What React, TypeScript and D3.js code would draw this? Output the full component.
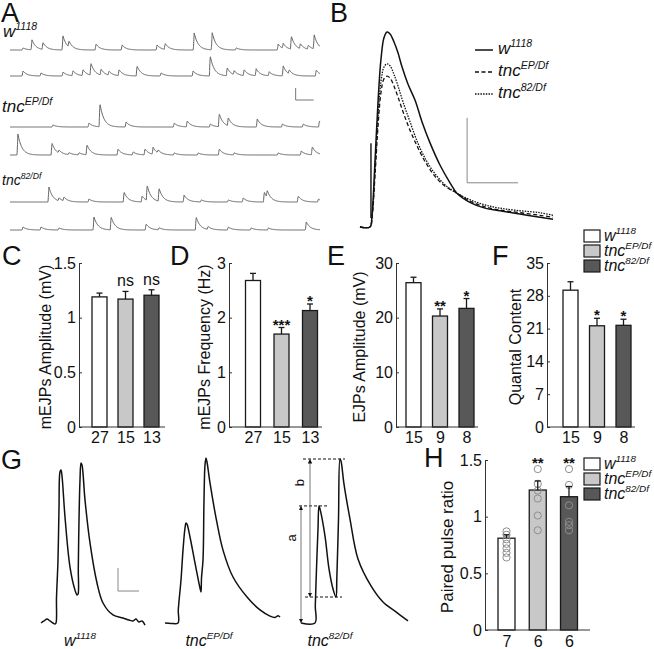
import { useEffect, useRef } from "react";
import * as d3 from "d3";

const W = 654;
const H = 649;
const FONT = "'Liberation Sans', Arial, Helvetica, sans-serif";

const genotypes = ["w1118", "tncEP/Df", "tnc82/Df"];
const genoBase = ["w", "tnc", "tnc"];
const genoSup = ["1118", "EP/Df", "82/Df"];
const genoFill = ["#ffffff", "#c8c8c8", "#585858"];

// A: spontaneous mEJPs, [time (s), amplitude (mV)] per sweep
const aW1 = [[0.67, 0.17], [1.17, 0.83], [1.78, 0.58], [2.89, 1.17], [3.22, 0.5], [4.72, 0.5], [6.17, 0.42], [8.11, 0.42], [8.56, 0.5], [10.17, 1.42], [11.17, 1.42], [12.5, 0.17], [14.83, 0.5], [15.11, 0.42], [15.56, 1.08], [16.06, 0.42], [16.5, 0.33], [16.83, 1.17]];
const aW2 = [[0.67, 0.42], [1.67, 0.25], [2.89, 0.33], [3.44, 0.42], [4.0, 0.5], [4.44, 1.0], [5.0, 0.5], [5.44, 0.33], [6.0, 0.5], [7.0, 0.83], [8.33, 0.25], [10.11, 0.42], [11.06, 1.67], [12.0, 0.67], [12.39, 0.33], [12.94, 0.5], [13.61, 0.58], [14.33, 0.33], [15.11, 0.83], [15.44, 0.33], [16.94, 0.5]];
const aEP1 = [[2.33, 0.17], [4.33, 0.33], [4.94, 1.92], [6.39, 0.42], [9.06, 0.33], [9.78, 0.5], [11.06, 0.25], [11.56, 1.08], [12.06, 0.67], [13.67, 0.67], [15.06, 0.25], [16.22, 0.25], [17.12, 0.5]];
const aEP2 = [[0.39, 1.75], [2.28, 1.0], [2.67, 0.25], [3.22, 0.17], [3.78, 0.17], [4.22, 0.83], [5.94, 0.5], [6.78, 0.25], [7.44, 0.5], [7.89, 0.58], [8.17, 0.25], [9.06, 0.17], [10.39, 0.17], [11.56, 0.5], [12.39, 0.17], [14.83, 0.17], [16.11, 0.33], [16.72, 0.67]];
const a821 = [[2.11, 1.25], [2.67, 0.25], [2.94, 0.33], [4.33, 0.25], [6.28, 0.83], [7.28, 0.5], [7.56, 1.25], [8.22, 1.08], [9.61, 0.58], [10.56, 0.17], [12.06, 0.17], [12.89, 0.33], [14.06, 0.83], [14.22, 0.58], [15.94, 0.5], [17.06, 0.25]];
const a822 = [[0.67, 0.25], [1.67, 0.25], [2.67, 0.17], [4.61, 1.08], [5.56, 1.08], [7.5, 0.5], [8.22, 0.17], [10.28, 1.08], [10.94, 0.25], [12.06, 0.25], [13.33, 0.17], [14.28, 0.17], [16.39, 0.67]];

// B: averaged EJPs, time (ms) and voltage (mV)
const bT_w = [0, 3.9, 4.7, 5.9, 7.1, 8.2, 9.4, 10.6, 11.8, 13.3, 14.9, 16.5, 18.8, 21.6, 24.3, 27.5, 31.4, 35.3, 38.0, 43.1, 49.0, 54.9, 62.7, 70.6, 75.7];
const bV_w = [0, 0, 1.8, 10.3, 19.5, 25.7, 29.1, 30.0, 29.7, 28.5, 26.8, 24.6, 22.0, 19.5, 16.2, 12.9, 9.5, 6.8, 5.2, 3.8, 2.9, 2.5, 2.0, 1.5, 1.2];
const bT_tnc = [0, 3.9, 4.7, 5.9, 7.1, 8.2, 9.4, 10.6, 11.8, 13.3, 14.9, 16.9, 19.6, 22.7, 25.9, 29.4, 33.3, 38.0, 43.1, 49.0, 54.9, 62.7, 70.6, 75.7];
const bV_ep = [0, 0, 1.4, 8.0, 15.7, 20.6, 22.8, 23.2, 22.9, 21.7, 20.0, 17.7, 14.9, 12.2, 9.8, 7.8, 6.3, 5.2, 4.0, 3.1, 2.6, 2.2, 1.8, 1.5];
const bV_82 = [0, 0, 1.5, 8.8, 17.2, 22.3, 24.6, 25.1, 24.8, 23.5, 21.7, 19.2, 16.2, 12.9, 10.3, 8.2, 6.5, 5.2, 4.2, 3.4, 2.9, 2.5, 2.2, 1.8];

// C-F, H: group means, SEM, n, significance
const mejpAmp = [1.19, 1.17, 1.205];
const mejpAmpSem = [0.035, 0.07, 0.05];
const mejpAmpSig = ["", "ns", "ns"];
const mejpN = [27, 15, 13];
const mejpFreq = [2.68, 1.7, 2.13];
const mejpFreqSem = [0.13, 0.12, 0.12];
const mejpFreqSig = ["", "***", "*"];
const ejpAmp = [26.4, 20.3, 21.7];
const ejpAmpSem = [1.0, 1.3, 1.8];
const ejpAmpSig = ["", "**", "*"];
const ejpN = [15, 9, 8];
const quantal = [29.2, 21.6, 21.7];
const quantalSem = [1.8, 1.6, 1.3];
const quantalSig = ["", "*", "*"];
const ppr = [0.81, 1.235, 1.176];
const pprSem = [0.03, 0.08, 0.09];
const pprSig = ["", "**", "**"];
const pprN = [7, 6, 6];
const pprPoints = [
  [0.87, 0.84, 0.8, 0.76, 0.72, 0.68, 0.64],
  [1.42, 1.29, 1.23, 1.16, 1.01, 0.88],
  [1.42, 1.28, 1.1, 0.955, 0.925, 0.88],
];

// G: paired-pulse traces, [ms, mV]
const gW = [[0, 0], [3, 0.9], [6, 1.7], [9, 0.9], [12, 0], [14, -0.4], [15, 0], [15.5, 10.9], [17, 27.4], [18, 50], [19, 65.7], [20, 66.5], [21, 63.9], [24, 46.1], [29, 24.3], [34, 14.3], [36, 12.2], [37, 12.5], [37.3, 23.9], [38, 44.8], [39, 62.2], [40, 69.6], [41, 68.7], [44, 53.5], [49, 34.8], [56, 17.4], [62, 8.7], [72, 3.5], [82, 2.2], [88, 1.3], [92, 0.9], [95, 1.7], [98, 0.4], [101, 0.9], [104, -0.9]];
const gEP = [[0, 0], [6, -0.2], [13, 0], [13.3, 5.7], [16, 18.7], [18, 31.7], [20, 41.3], [21, 43.5], [22, 43], [25, 37.4], [30, 26.1], [35, 15.2], [36, 13.5], [36.5, 19.6], [38, 27.4], [39, 53.5], [40, 68.7], [41, 71.7], [42, 70], [45, 60.9], [52, 43.5], [58, 31.7], [68, 20], [82, 11.3], [95, 5.7], [105, 3.0], [110, 2.4], [113, 3.2], [115, 2.6]];
const g82 = [[0, 0], [14, 0], [14.3, 7.4], [15.5, 23.5], [17, 40.9], [18, 50.9], [19, 49.6], [24, 37.8], [28, 23.5], [32, 14.8], [35, 11.3], [35.8, 19.1], [37.5, 45.2], [39, 71.3], [40, 70.4], [43, 60.4], [49, 45.2], [57, 27.8], [70, 16.1], [82, 9.1], [95, 4.8], [107, 0.9]];

function mejpTrace(events: number[][], tEnd: number) {
  const rise = 0.05;
  const tau = 0.22;
  const pts: [number, number][] = [];
  for (let t = 0; t <= tEnd; t += 0.02) {
    let v = 0;
    for (const [te, a] of events) {
      const s = t - te;
      if (s < 0) continue;
      v += s < rise ? (a * s) / rise : a * Math.exp(-(s - rise) / tau);
    }
    pts.push([t, v]);
  }
  return pts;
}

function genoLabel(g: any, x: number, y: number, i: number, size: number, anchor = "start") {
  const t = g
    .append("text")
    .attr("x", x)
    .attr("y", y)
    .attr("font-family", FONT)
    .attr("font-style", "italic")
    .attr("font-size", size)
    .attr("text-anchor", anchor)
    .attr("fill", "#111");
  t.append("tspan").text(genoBase[i]);
  t.append("tspan").attr("font-size", size * 0.62).attr("dy", -size * 0.42).text(genoSup[i]);
}

function letter(svg: any, x: number, y: number, s: string) {
  svg
    .append("text")
    .attr("x", x)
    .attr("y", y)
    .attr("font-family", FONT)
    .attr("font-size", 27)
    .attr("fill", "#111")
    .text(s);
}

function barPanel(svg: any, p: any) {
  const g = svg.append("g");
  const y = d3.scaleLinear().domain([0, p.max]).range(p.yRange);
  const x = d3.scalePoint().domain(genotypes).range([p.c0, p.c2]);
  const bw = p.bw;

  g.selectAll("rect.bar")
    .data(genotypes)
    .enter()
    .append("rect")
    .attr("x", (d: string) => (x(d) as number) - bw / 2)
    .attr("y", (d: string, i: number) => y(p.mean[i]))
    .attr("width", bw)
    .attr("height", (d: string, i: number) => y(0) - y(p.mean[i]))
    .attr("fill", (d: string, i: number) => genoFill[i])
    .attr("stroke", "#1a1a1a")
    .attr("stroke-width", 1.3);

  if (p.points) {
    genotypes.forEach((d, i) => {
      g.selectAll(null)
        .data(p.points[i])
        .enter()
        .append("circle")
        .attr("cx", x(d))
        .attr("cy", (v: number) => y(v))
        .attr("r", 3.6)
        .attr("fill", "none")
        .attr("stroke", "#8e8e8e")
        .attr("stroke-width", 1);
    });
  }

  genotypes.forEach((d, i) => {
    const cx = x(d) as number;
    const top = y(p.mean[i] + p.sem[i]);
    g.append("line").attr("x1", cx).attr("x2", cx).attr("y1", y(p.mean[i])).attr("y2", top)
      .attr("stroke", "#1a1a1a").attr("stroke-width", 1.3);
    g.append("line").attr("x1", cx - 3).attr("x2", cx + 3).attr("y1", top).attr("y2", top)
      .attr("stroke", "#1a1a1a").attr("stroke-width", 1.3);
    const s = p.sig[i];
    if (!s) return;
    const ty = p.points ? y(d3.max(p.points[i]) as number) - 1 : s === "ns" ? top - 5 : top + 2;
    g.append("text")
      .attr("x", cx)
      .attr("y", ty)
      .attr("text-anchor", "middle")
      .attr("font-family", FONT)
      .attr("font-size", s === "ns" ? 16 : 15)
      .attr("font-weight", s === "ns" ? "normal" : "bold")
      .attr("fill", "#111")
      .text(s);
  });

  const ya = g
    .append("g")
    .attr("transform", `translate(${p.axisX},0)`)
    .call(d3.axisLeft(y).tickValues(p.ticks).tickSizeInner(-3).tickSizeOuter(0).tickPadding(3).tickFormat((d: any) => String(d)));
  ya.selectAll("text").attr("font-family", FONT).attr("font-size", 16).attr("fill", "#111");
  ya.selectAll("path,line").attr("stroke", "#333");

  g.append("line")
    .attr("x1", p.axisX)
    .attr("x2", p.axisEnd)
    .attr("y1", y(0))
    .attr("y2", y(0))
    .attr("stroke", "#333");

  const xa = g
    .append("g")
    .attr("transform", `translate(0,${y(0)})`)
    .call(d3.axisBottom(x).tickSize(0).tickPadding(p.xPad).tickFormat((d: any, i: number) => String(p.n[i])));
  xa.select(".domain").remove();
  xa.selectAll("text").attr("font-family", FONT).attr("font-size", 16).attr("fill", "#111");

  g.append("text")
    .attr("transform", `translate(${p.labelX},${p.labelY}) rotate(-90)`)
    .attr("text-anchor", "middle")
    .attr("font-family", FONT)
    .attr("font-size", p.labelSize || 16)
    .attr("fill", "#111")
    .text(p.label);
}

function legendBoxes(svg: any, x: number, y0: number, step: number) {
  genotypes.forEach((d, i) => {
    svg.append("rect")
      .attr("x", x)
      .attr("y", y0 + i * step)
      .attr("width", 16)
      .attr("height", 12)
      .attr("fill", genoFill[i])
      .attr("stroke", "#1a1a1a")
      .attr("stroke-width", 1.2);
    genoLabel(svg, x + 20, y0 + i * step + 11, i, 16);
  });
}

export default function App() {
  const ref = useRef<SVGSVGElement | null>(null);

  useEffect(() => {
    const svg = d3.select(ref.current);
    svg.selectAll("*").remove();

    // ---------- A ----------
    letter(svg, 1, 22, "A");
    const xA = d3.scaleLinear().domain([0, 17.2]).range([10, 320]);
    const rows = [aW1, aW2, aEP1, aEP2, a821, a822];
    const baseY = [50, 76, 127, 155, 202, 230];
    rows.forEach((ev, i) => {
      const yA = d3.scaleLinear().domain([0, 1]).range([baseY[i], baseY[i] - 12]);
      const line = d3.line<[number, number]>()
        .curve(d3.curveMonotoneX)
        .x((d) => xA(d[0]))
        .y((d) => yA(d[1]));
      svg.append("path")
        .attr("d", line(mejpTrace(ev, 17.2)))
        .attr("fill", "none")
        .attr("stroke", "#585858")
        .attr("stroke-width", 0.95);
      if (i === 1) {
        // scale bar: 1 s, 1 mV
        svg.append("path")
          .attr("d", `M${xA(15.85)},${yA(-1)}V${yA(-2)}H${xA(16.85)}`)
          .attr("fill", "none")
          .attr("stroke", "#777")
          .attr("stroke-width", 1);
      }
    });
    genoLabel(svg, 3, 37, 0, 17);
    genoLabel(svg, 2, 112, 1, 17);
    genoLabel(svg, 2, 185, 2, 14);

    // ---------- B ----------
    letter(svg, 330, 22, "B");
    const xB = d3.scaleLinear().domain([0, 20]).range([360, 411]);
    const yB = d3.scaleLinear().domain([0, 10]).range([227, 162]);
    const bCurves = [
      { t: bT_w, v: bV_w, dash: null, w: 1.5 },
      { t: bT_tnc, v: bV_ep, dash: "4,2.5", w: 1.3 },
      { t: bT_tnc, v: bV_82, dash: "1.5,1.2", w: 1.3 },
    ];
    bCurves.forEach((c) => {
      const pts = c.t.map((t, i) => [xB(t), yB(c.v[i])] as [number, number]);
      svg.append("path")
        .attr("d", d3.line().curve(d3.curveCatmullRom.alpha(0.5))(pts))
        .attr("fill", "none")
        .attr("stroke", "#111")
        .attr("stroke-width", c.w)
        .attr("stroke-dasharray", c.dash);
    });
    // stimulus artifact
    svg.append("line")
      .attr("x1", xB(4.3)).attr("x2", xB(4.3))
      .attr("y1", yB(12.9)).attr("y2", yB(1.4))
      .attr("stroke", "#111").attr("stroke-width", 1.4);
    // scale bar: 10 mV, 20 ms
    svg.append("path")
      .attr("d", `M${xB(42)},${yB(16.8)}V${yB(6.8)}H${xB(62)}`)
      .attr("fill", "none")
      .attr("stroke", "#888")
      .attr("stroke-width", 1);
    const legDash = [null, "4,2.5", "1.5,1.2"];
    genotypes.forEach((d, i) => {
      const ly = 50 + i * 22;
      svg.append("line")
        .attr("x1", 475).attr("x2", 493).attr("y1", ly).attr("y2", ly)
        .attr("stroke", "#111").attr("stroke-width", 1.5)
        .attr("stroke-dasharray", legDash[i]);
      genoLabel(svg, 498, ly + 4, i, 17);
    });

    // ---------- C-F ----------
    letter(svg, 2, 265, "C");
    letter(svg, 170, 265, "D");
    letter(svg, 327, 265, "E");
    letter(svg, 492, 265, "F");
    const common = { yRange: [427, 263], bw: 15, xPad: 5, labelY: 347 };
    barPanel(svg, { ...common, max: 1.5, ticks: [0, 0.5, 1, 1.5], mean: mejpAmp, sem: mejpAmpSem, sig: mejpAmpSig, n: mejpN, c0: 99.5, c2: 151.5, axisX: 79, axisEnd: 165, label: "mEJPs Amplitude (mV)", labelX: 51 });
    barPanel(svg, { ...common, max: 3, ticks: [0, 1, 2, 3], mean: mejpFreq, sem: mejpFreqSem, sig: mejpFreqSig, n: mejpN, c0: 253, c2: 310, axisX: 229, axisEnd: 322, label: "mEJPs Frequency (Hz)", labelX: 210 });
    barPanel(svg, { ...common, max: 30, ticks: [0, 10, 20, 30], mean: ejpAmp, sem: ejpAmpSem, sig: ejpAmpSig, n: ejpN, c0: 413.5, c2: 466.5, axisX: 396, axisEnd: 478, label: "EJPs Amplitude (mV)", labelX: 365 });
    barPanel(svg, { ...common, max: 35, ticks: [0, 7, 14, 21, 28, 35], mean: quantal, sem: quantalSem, sig: quantalSig, n: ejpN, c0: 570.5, c2: 623.5, axisX: 547, axisEnd: 635, label: "Quantal Content", labelX: 521 });
    legendBoxes(svg, 584, 230, 15);

    // ---------- G ----------
    letter(svg, 1, 469, "G");
    const yG = d3.scaleLinear().domain([0, 10]).range([623, 600]);
    const gOrig = [41, 165, 301];
    const gTraces = [gW, gEP, g82];
    const gLabelX = [80, 209, 330];
    gTraces.forEach((tr, i) => {
      const xG = d3.scaleLinear().domain([0, 20]).range([gOrig[i], gOrig[i] + 20]);
      svg.append("path")
        .attr("d", d3.line<number[]>().curve(d3.curveCatmullRom.alpha(0.5)).x((d) => xG(d[0])).y((d) => yG(d[1]))(tr))
        .attr("fill", "none")
        .attr("stroke", "#111")
        .attr("stroke-width", 1.5);
      genoLabel(svg, gLabelX[i], 646, i, 16, "middle");
    });
    // scale bar: 20 ms, 10 mV
    const xG1 = d3.scaleLinear().domain([0, 20]).range([41, 61]);
    svg.append("path")
      .attr("d", `M${xG1(77)},${yG(23.9)}V${yG(13.9)}H${xG1(98)}`)
      .attr("fill", "none")
      .attr("stroke", "#888")
      .attr("stroke-width", 1);

    // a/b annotation on the third trace
    const xG3 = d3.scaleLinear().domain([0, 20]).range([301, 321]);
    const peak1 = 50.9;
    const peak2 = 71.3;
    const trough = 11.3;
    const defs = svg.append("defs");
    defs.append("marker")
      .attr("id", "ah")
      .attr("viewBox", "0 0 6 6")
      .attr("refX", 6)
      .attr("refY", 3)
      .attr("markerWidth", 5)
      .attr("markerHeight", 5)
      .attr("orient", "auto-start-reverse")
      .append("path")
      .attr("d", "M0,0L6,3L0,6Z")
      .attr("fill", "#111");
    const dashes = [
      [peak2, 2, 44],
      [peak1, -2, 26],
      [trough, 4, 41],
    ];
    dashes.forEach(([v, a, b]) => {
      svg.append("line")
        .attr("x1", xG3(a)).attr("x2", xG3(b)).attr("y1", yG(v)).attr("y2", yG(v))
        .attr("stroke", "#111").attr("stroke-width", 1).attr("stroke-dasharray", "3,2");
    });
    const arrows = [
      [0, peak1, 0],
      [9, peak2, trough],
    ];
    arrows.forEach(([t, v1, v2]) => {
      svg.append("line")
        .attr("x1", xG3(t)).attr("x2", xG3(t)).attr("y1", yG(v1)).attr("y2", yG(v2))
        .attr("stroke", "#666").attr("stroke-width", 0.9)
        .attr("marker-start", "url(#ah)").attr("marker-end", "url(#ah)");
    });
    svg.append("text")
      .attr("transform", `translate(${xG3(-5)},${yG(37)}) rotate(-90)`)
      .attr("text-anchor", "middle").attr("font-family", FONT).attr("font-size", 13).attr("fill", "#111")
      .text("a");
    svg.append("text")
      .attr("transform", `translate(${xG3(3)},${yG(61)}) rotate(-90)`)
      .attr("text-anchor", "middle").attr("font-family", FONT).attr("font-size", 13).attr("fill", "#111")
      .text("b");

    // ---------- H ----------
    letter(svg, 424, 467, "H");
    barPanel(svg, { yRange: [630, 460], bw: 17, xPad: 6, labelY: 547, max: 1.5, ticks: [0, 0.5, 1, 1.5], mean: ppr, sem: pprSem, sig: pprSig, n: pprN, points: pprPoints, c0: 506.5, c2: 569, axisX: 485, axisEnd: 590, label: "Paired pulse ratio", labelX: 453, labelSize: 17 });
    legendBoxes(svg, 584, 458, 15);
  }, []);

  return (
    <svg
      ref={ref}
      width={W}
      height={H}
      style={{ position: "absolute", left: 0, top: 0, background: "#fff" }}
    />
  );
}
